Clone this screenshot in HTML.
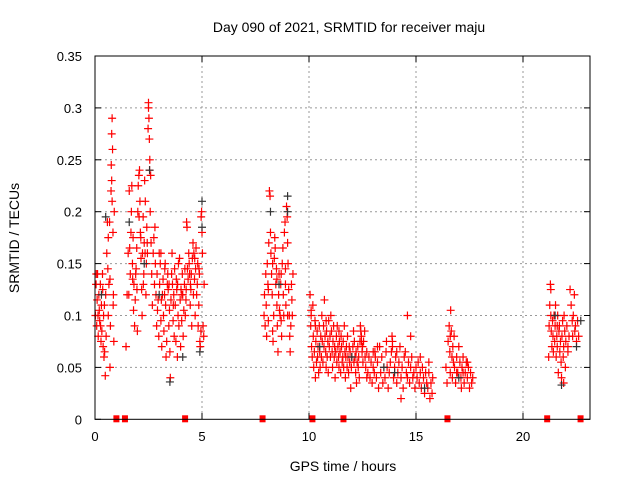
<!DOCTYPE html>
<html><head><meta charset="utf-8"><style>
html,body{margin:0;padding:0;background:#fff;}
svg{display:block;font-family:"Liberation Sans",sans-serif;}
</style></head><body>
<svg id="chart" width="640" height="480" viewBox="0 0 640 480">
<text x="349" y="32" font-size="14" text-anchor="middle">Day 090 of 2021, SRMTID for receiver maju</text>
<text transform="translate(19,238) rotate(-90)" font-size="14" text-anchor="middle">SRMTID / TECUs</text>
<text x="343" y="471" font-size="14" text-anchor="middle">GPS time / hours</text>
<g id="grid"></g>
<g id="ticks"></g>
<g id="marks"></g>
<rect x="95" y="56" width="495" height="363.3" fill="none" stroke="#000" stroke-width="1"/>
</svg>
<script>
const xTicks=[0,5,10,15,20];
const yTicks=[0,0.05,0.1,0.15,0.2,0.25,0.3,0.35];
const yTickLabels=["0","0.05","0.1","0.15","0.2","0.25","0.3","0.35"];
const gapTimes=[1.0,1.4,4.21,7.83,10.16,11.61,16.47,21.13,22.69];
const redPts=[
[0.02,0.10],[0.05,0.13],[0.08,0.09],[0.1,0.115],[0.12,0.14],[0.15,0.08],[0.18,0.12],[0.2,0.105],[0.22,0.095],[0.25,0.13],[0.28,0.075],[0.3,0.11],[0.32,0.085],[0.35,0.14],[0.38,0.07],[0.4,0.10],[0.42,0.06],[0.45,0.065],[0.48,0.042],[0.5,0.12],[0.52,0.08],[0.55,0.16],[0.58,0.19],[0.6,0.145],[0.62,0.10],[0.65,0.13],[0.68,0.19],[0.7,0.05],[0.72,0.09],[0.75,0.22],[0.76,0.245],[0.78,0.275],[0.8,0.29],[0.82,0.26],[0.84,0.18],[0.85,0.11],[0.88,0.075],[0.9,0.2],[0.06,0.14],[0.14,0.1],[0.26,0.09],[0.36,0.125],[0.44,0.11],[0.62,0.175],[0.7,0.135],[0.78,0.23],[0.8,0.21],[0.86,0.12],
[1.45,0.07],[1.5,0.12],[1.55,0.16],[1.6,0.22],[1.62,0.165],[1.65,0.14],[1.7,0.2],[1.72,0.225],[1.75,0.15],[1.78,0.175],[1.8,0.105],[1.82,0.13],[1.85,0.09],[1.88,0.115],[1.9,0.14],[1.95,0.165],[1.98,0.085],[2.0,0.2],[2.02,0.225],[2.05,0.235],[2.08,0.24],[2.1,0.21],[2.12,0.18],[2.15,0.155],[2.18,0.125],[2.2,0.1],[2.22,0.16],[2.25,0.195],[2.28,0.14],[2.3,0.17],[2.32,0.23],[2.35,0.21],[2.38,0.12],[2.4,0.15],[2.42,0.185],[2.45,0.16],[2.48,0.28],[2.5,0.305],[2.52,0.29],[2.54,0.27],[2.56,0.25],[2.58,0.2],[2.6,0.235],[2.62,0.17],[2.65,0.14],[2.68,0.11],[1.68,0.18],[1.92,0.145],[2.06,0.195],[2.26,0.13],[2.44,0.17],[2.55,0.24],[1.58,0.12],[1.76,0.135],[1.96,0.125],[2.14,0.175],[2.34,0.16],[2.5,0.3],
[2.72,0.16],[2.75,0.175],[2.78,0.13],[2.8,0.185],[2.82,0.15],[2.85,0.12],[2.88,0.09],[2.9,0.14],[2.92,0.105],[2.95,0.115],[2.98,0.08],[3.0,0.16],[3.02,0.13],[3.05,0.15],[3.08,0.095],[3.1,0.115],[3.12,0.07],[3.15,0.12],[3.18,0.135],[3.2,0.1],[3.22,0.085],[3.25,0.12],[3.28,0.15],[3.3,0.11],[3.32,0.06],[3.35,0.075],[3.38,0.13],[3.4,0.14],[3.42,0.125],[3.45,0.09],[3.48,0.105],[3.5,0.065],[3.52,0.04],[3.55,0.115],[3.58,0.14],[3.6,0.16],[3.62,0.13],[3.65,0.095],[3.68,0.12],[3.7,0.08],[3.72,0.145],[3.75,0.11],[3.78,0.075],[3.8,0.135],[3.82,0.125],[3.85,0.06],[3.88,0.1],[3.9,0.15],[3.92,0.09],[3.95,0.155],[3.98,0.115],[4.0,0.07],[4.02,0.125],[4.05,0.095],[4.08,0.14],[4.1,0.12],[4.12,0.08],[4.15,0.105],[4.18,0.13],[4.2,0.145],[4.22,0.1],[4.25,0.115],[4.28,0.19],[4.3,0.185],[4.32,0.145],[4.35,0.135],[4.38,0.16],[4.4,0.15],[4.42,0.14],[4.45,0.11],[4.48,0.125],[4.5,0.14],[4.52,0.09],[4.55,0.155],[4.58,0.17],[4.6,0.12],[4.62,0.16],[4.65,0.135],[4.68,0.1],[4.7,0.145],[4.72,0.165],[4.75,0.12],[4.78,0.13],[4.8,0.15],[4.82,0.09],[4.85,0.11],[4.88,0.14],[4.9,0.075],[4.92,0.07],[4.95,0.085],[4.98,0.2],[5.0,0.18],[5.02,0.16],[5.05,0.09],[5.08,0.08],[5.1,0.13],[3.08,0.16],[3.26,0.145],[3.46,0.13],[3.66,0.11],[3.86,0.13],[4.06,0.12],[4.26,0.125],[4.46,0.13],[4.66,0.155],[4.86,0.145],[4.96,0.195],
[7.9,0.1],[7.92,0.12],[7.95,0.09],[7.98,0.14],[8.0,0.11],[8.02,0.08],[8.05,0.15],[8.08,0.13],[8.1,0.095],[8.12,0.17],[8.15,0.22],[8.18,0.215],[8.2,0.18],[8.22,0.16],[8.25,0.14],[8.28,0.12],[8.3,0.085],[8.32,0.075],[8.35,0.1],[8.38,0.155],[8.4,0.175],[8.42,0.165],[8.45,0.13],[8.48,0.145],[8.5,0.11],[8.52,0.09],[8.55,0.065],[8.58,0.12],[8.6,0.14],[8.62,0.105],[8.65,0.1],[8.68,0.13],[8.7,0.095],[8.72,0.08],[8.75,0.15],[8.78,0.165],[8.8,0.12],[8.82,0.1],[8.85,0.18],[8.88,0.19],[8.9,0.13],[8.92,0.11],[8.95,0.205],[8.98,0.195],[9.0,0.17],[9.02,0.15],[9.05,0.125],[9.08,0.1],[9.1,0.08],[9.12,0.065],[9.15,0.09],[9.18,0.13],[9.2,0.115],[9.22,0.1],[9.25,0.14],[8.1,0.125],[8.3,0.15],[8.5,0.135],[8.7,0.14],[8.9,0.145],[9.0,0.1],
[10.05,0.12],[10.08,0.09],[10.1,0.1],[10.12,0.07],[10.15,0.06],[10.18,0.11],[10.2,0.08],[10.22,0.05],[10.25,0.065],[10.28,0.095],[10.3,0.04],[10.32,0.075],[10.35,0.055],[10.38,0.085],[10.4,0.06],[10.42,0.07],[10.45,0.045],[10.48,0.09],[10.5,0.065],[10.52,0.05],[10.55,0.08],[10.58,0.06],[10.6,0.1],[10.62,0.075],[10.65,0.055],[10.68,0.09],[10.7,0.07],[10.72,0.115],[10.75,0.08],[10.78,0.065],[10.8,0.05],[10.82,0.085],[10.85,0.06],[10.88,0.075],[10.9,0.045],[10.92,0.095],[10.95,0.07],[10.98,0.08],[11.0,0.06],[11.02,0.1],[11.05,0.085],[11.08,0.065],[11.1,0.05],[11.12,0.075],[11.15,0.09],[11.18,0.06],[11.2,0.07],[11.22,0.04],[11.25,0.065],[11.28,0.08],[11.3,0.055],[11.32,0.09],[11.35,0.07],[11.38,0.06],[11.4,0.05],[11.42,0.075],[11.45,0.065],[11.48,0.045],[11.5,0.08],[11.52,0.07],[11.55,0.055],[11.58,0.06],[11.6,0.075],[11.62,0.05],[11.65,0.09],[11.68,0.065],[11.7,0.04],[11.72,0.06],[11.75,0.07],[11.78,0.05],[11.8,0.08],[11.82,0.06],[11.85,0.045],[11.88,0.07],[11.9,0.055],[11.92,0.065],[11.95,0.03],[11.98,0.05],[12.0,0.06],[12.05,0.07],[12.08,0.085],[12.1,0.055],[12.12,0.075],[12.15,0.06],[12.18,0.045],[12.2,0.065],[12.22,0.035],[12.25,0.055],[12.28,0.07],[12.3,0.05],[12.32,0.06],[12.35,0.04],[12.38,0.075],[12.4,0.09],[12.42,0.085],[12.45,0.08],[12.48,0.065],[12.5,0.07],[12.52,0.055],[12.55,0.075],[12.6,0.085],[12.62,0.06],[12.65,0.05],[12.7,0.065],[12.75,0.045],[12.8,0.06],[12.85,0.04],[12.9,0.055],[12.95,0.035],[13.0,0.05],[13.05,0.045],[13.08,0.065],[13.1,0.06],[13.15,0.04],[13.2,0.055],[13.25,0.03],[13.3,0.07],[13.35,0.045],[13.4,0.06],[13.45,0.035],[13.5,0.05],[13.55,0.04],[13.6,0.065],[13.62,0.075],[13.65,0.05],[13.7,0.03],[13.75,0.045],[13.8,0.055],[13.85,0.065],[13.88,0.08],[13.9,0.07],[13.95,0.04],[14.0,0.05],[14.05,0.06],[14.1,0.035],[14.15,0.045],[14.2,0.055],[14.25,0.07],[14.3,0.04],[14.35,0.05],[14.4,0.03],[14.45,0.06],[14.5,0.065],[14.55,0.045],[14.6,0.04],[14.65,0.055],[14.7,0.035],[14.75,0.05],[14.8,0.06],[14.85,0.04],[14.9,0.045],[14.95,0.03],[15.0,0.05],[15.05,0.04],[15.1,0.055],[15.15,0.035],[15.2,0.045],[15.25,0.03],[15.3,0.05],[15.35,0.04],[15.4,0.025],[15.45,0.045],[15.5,0.035],[15.55,0.03],[15.6,0.045],[15.65,0.02],[15.7,0.035],[15.75,0.025],[15.78,0.04],
[10.1,0.105],[10.3,0.09],[10.8,0.095],[12.45,0.075],[13.9,0.075],[14.6,0.1],[14.75,0.08],[14.1,0.065],[13.2,0.07],[12.7,0.04],[11.4,0.085],[15.2,0.06],[15.6,0.055],[13.0,0.065],[14.3,0.02],
[16.4,0.05],[16.45,0.035],[16.5,0.075],[16.55,0.09],[16.58,0.065],[16.6,0.045],[16.62,0.105],[16.65,0.085],[16.68,0.06],[16.7,0.04],[16.72,0.07],[16.75,0.055],[16.78,0.08],[16.8,0.05],[16.85,0.035],[16.9,0.06],[16.95,0.045],[17.0,0.07],[17.05,0.055],[17.1,0.04],[17.12,0.03],[17.15,0.05],[17.2,0.06],[17.25,0.035],[17.3,0.045],[17.35,0.055],[17.4,0.04],[17.45,0.05],[17.5,0.03],[17.55,0.045],[17.6,0.035],[17.65,0.04],[16.6,0.08],[16.9,0.045],[17.2,0.045],[17.4,0.055],
[21.2,0.06],[21.22,0.09],[21.25,0.11],[21.28,0.13],[21.3,0.1],[21.32,0.085],[21.35,0.07],[21.38,0.095],[21.4,0.08],[21.42,0.065],[21.45,0.1],[21.48,0.075],[21.5,0.09],[21.52,0.11],[21.55,0.06],[21.58,0.08],[21.6,0.07],[21.62,0.1],[21.65,0.045],[21.68,0.085],[21.7,0.09],[21.72,0.065],[21.75,0.075],[21.78,0.055],[21.8,0.04],[21.82,0.08],[21.85,0.095],[21.88,0.06],[21.9,0.07],[21.92,0.1],[21.95,0.085],[21.98,0.05],[22.0,0.075],[22.05,0.09],[22.1,0.065],[22.15,0.08],[22.2,0.125],[22.25,0.11],[22.3,0.095],[22.32,0.08],[22.35,0.1],[22.4,0.12],[22.42,0.085],[22.45,0.09],[22.5,0.075],[22.55,0.095],[22.6,0.08],[21.3,0.125],[21.6,0.09],[22.1,0.07],[21.9,0.035]
];
const blackPts=[[0.5,0.195],[1.6,0.19],[2.55,0.24],[3.5,0.036],[4.1,0.06],[5.0,0.21],[5.0,0.185],[8.2,0.2],[9.0,0.215],[9.0,0.2],[4.9,0.065],[8.6,0.13],[12.0,0.06],[13.5,0.05],[15.4,0.03],[17.0,0.04],[21.8,0.033],[22.7,0.095],[22.5,0.07],[21.5,0.1],[3.0,0.12],[2.3,0.15],[0.3,0.12],[10.5,0.07],[14.0,0.045]];

const X0=95,PX=21.4,Y0=419.3,PY=1038;
function sx(t){return X0+t*PX;}
function sy(v){return Y0-v*PY;}
const NS="http://www.w3.org/2000/svg";
function mk(tag,attrs,parent){const e=document.createElementNS(NS,tag);for(const k in attrs)e.setAttribute(k,attrs[k]);parent.appendChild(e);return e;}
const grid=document.getElementById('grid'),ticks=document.getElementById('ticks'),marks=document.getElementById('marks');
xTicks.forEach((t,i)=>{
  const x=sx(t);
  if(t>0){const g=mk('line',{x1:x,x2:x,y1:56,y2:419,stroke:'#999','stroke-dasharray':'2,3'},grid);
  
  }
  mk('line',{x1:x,x2:x,y1:419,y2:413,stroke:'#000'},ticks);
  mk('line',{x1:x,x2:x,y1:56,y2:62,stroke:'#000'},ticks);
  const l=mk('text',{x:x,y:441,'font-size':13,'text-anchor':'middle'},ticks);
  l.textContent=String(t);
  
  
});
yTicks.forEach((v,i)=>{
  const y=sy(v);
  if(v>0&&v<0.35){const g=mk('line',{x1:95,x2:590,y1:y,y2:y,stroke:'#999','stroke-dasharray':'2,3'},grid);
  
  }
  mk('line',{x1:95,x2:101,y1:y,y2:y,stroke:'#000'},ticks);
  mk('line',{x1:584,x2:590,y1:y,y2:y,stroke:'#000'},ticks);
  const l=mk('text',{x:82,y:y+5,'font-size':13,'text-anchor':'end'},ticks);
  l.textContent=yTickLabels[i];
  
  
});
function plus(p,col){
  const x=sx(p[0]),y=sy(p[1]);
  const e=mk('path',{d:`M${x-4},${y}H${x+4}M${x},${y-4}V${y+4}`,stroke:col,'stroke-width':1.2,fill:'none'},marks);
  return e;
}
redPts.forEach(p=>{const e=plus(p,'#f00');
  
  });
blackPts.forEach(p=>{const e=plus(p,'#333');
  
  });
gapTimes.forEach(t=>{
  const e=mk('rect',{x:sx(t)-3,y:Y0-4,width:6,height:7,fill:'#f00'},marks);
  
  
});
</script>
</body></html>
